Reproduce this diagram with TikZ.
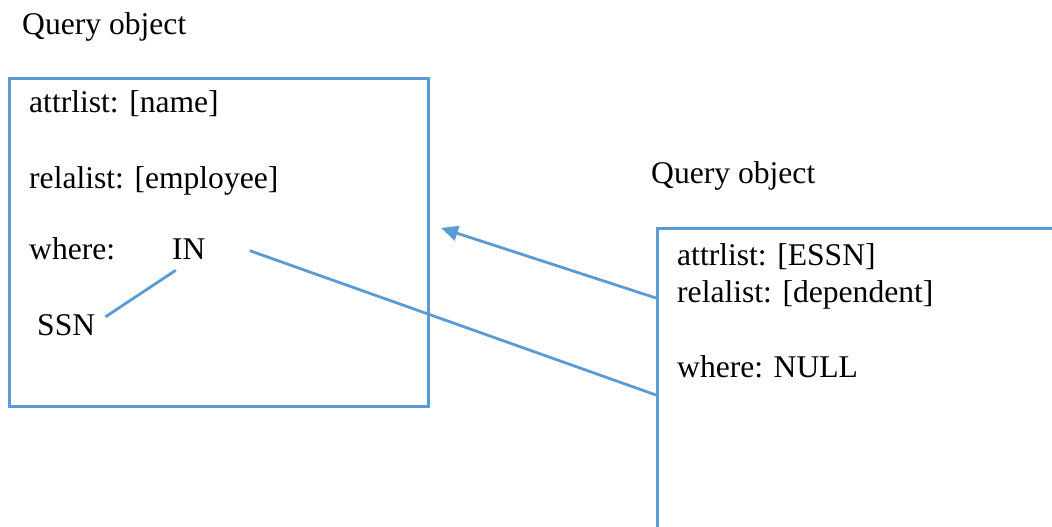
\documentclass[tikz,border=0pt]{standalone}
\usepackage{fontspec}
\setmainfont{Liberation Serif}
\usetikzlibrary{arrows.meta}
\definecolor{qblue}{RGB}{91,155,213}
\begin{document}
\begin{tikzpicture}[x=1pt,y=-1pt,
  txt/.style={anchor=base west, inner sep=0pt, font=\fontsize{31.6}{36}\selectfont},
  qbox/.style={draw=qblue, line width=2.8pt, inner sep=0pt, anchor=north west},
  link/.style={draw=qblue, line width=2.8pt}]
\useasboundingbox (0,0) rectangle (1052,527);
\clip (0,0) rectangle (1052,527);

% the two query objects
\node[qbox, minimum width=419pt, minimum height=328pt] (qa) at (8,77) {};
\node[qbox, minimum width=420pt, minimum height=330pt] (qb) at (656,227) {};

% outer query
\node[txt] (ta) at (22,35) {Query object};
\node[txt] (a1) at (29,112) {attrlist: [name]};
\node[txt] (a2) at (29,188) {relalist: [employee]};
\node[txt] (a3) at (29,259) {where:};
\node[txt] (in) at (172,259) {IN};
\node[txt] (ssn) at (37,335) {SSN};

% nested query
\node[txt] (tb) at (651,183) {Query object};
\node[txt] (b1) at (677,265) {attrlist: [ESSN]};
\node[txt] (b2) at (677,302) {relalist: [dependent]};
\node[txt] (b3) at (677,377) {where: NULL};

\coordinate (tip) at (441,228);

% connectors
\draw[link] ([shift={(10,3)}]ssn.north east) -- ([shift={(-13,11)}]in.south);
\draw[link] ([shift={(44,2)}]in.east) -- (qb.west |- 0,395);
\draw[link, -{Triangle[length=17pt,width=15pt]}] (qb.west |- 0,298) -- (tip);
\end{tikzpicture}
\end{document}
